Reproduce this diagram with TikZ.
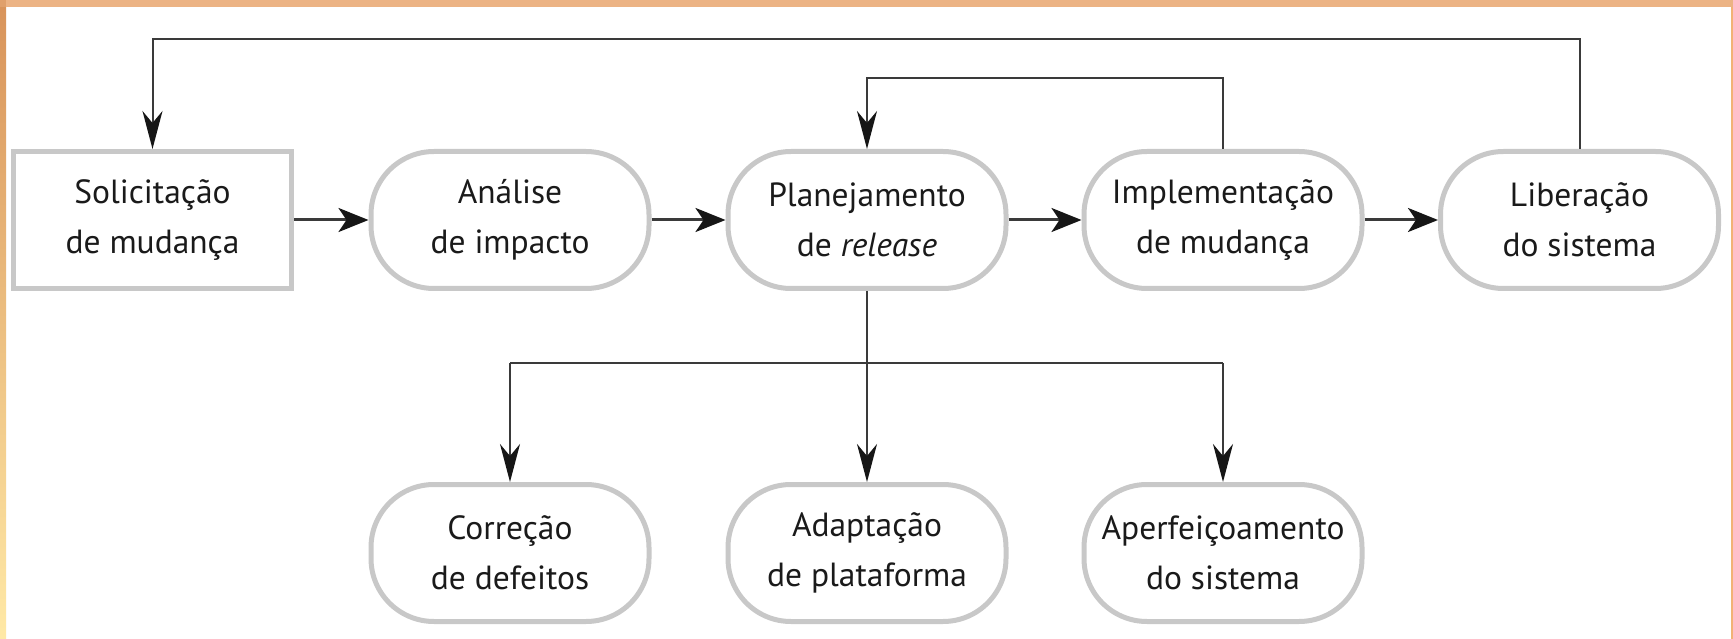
\documentclass[tikz,border=0pt]{standalone}
\usepackage{fontspec}
\setmainfont{PT Sans}
\usetikzlibrary{arrows.meta}
\definecolor{boxgray}{HTML}{C8C8C8}
\definecolor{linedark}{HTML}{3A3A3A}
\definecolor{tipdark}{HTML}{161616}
\definecolor{txt}{HTML}{1A1A1A}
\definecolor{frameA}{HTML}{D8935A}
\definecolor{frameB}{HTML}{ECB384}
\definecolor{frameY}{HTML}{FFE9A6}
\definecolor{frameR}{HTML}{F2B276}
\tikzset{
  x=1pt, y=-1pt,
  basebox/.style={draw=boxgray, line width=5pt, fill=white, text=txt,
    minimum width=278pt, minimum height=137pt, align=center,
    font=\fontsize{33.5}{50}\selectfont, inner sep=0pt},
  roundbox/.style={basebox, rounded corners=63pt},
  squarebox/.style={basebox},
  flow/.style={draw=linedark, line width=3pt,
    -{Stealth[length=30pt, width=24pt, inset=8pt, color=tipdark]}},
  fb/.style={draw=linedark, line width=2pt,
    -{Stealth[length=38pt, width=20pt, inset=12pt, color=tipdark]}},
  fbline/.style={draw=linedark, line width=2pt},
}
\begin{document}
\begin{tikzpicture}
\useasboundingbox (0,0) rectangle (1733,639);
% background frame
\fill[white] (0,0) rectangle (1733,639);
\shade[top color=frameA, bottom color=frameY] (0,0) rectangle (6,639);
\fill[frameB] (0,0) rectangle (1733,7);
\fill[frameA!60!frameB] (0,0) rectangle (6,7);
\fill[frameR] (1731,7) rectangle (1733,639);

% nodes
\node[squarebox] (sol) at (152.5,220) {Solicitação\\de mudança};
\node[roundbox] (ana) at (510,220) {Análise\\de impacto};
\node[roundbox] (pla) at (867,220) {Planejamento\\de \textit{release}};
\node[roundbox] (imp) at (1223,220) {Implementação\\de mudança};
\node[roundbox] (lib) at (1579.5,220) {Liberação\\do sistema};
\node[roundbox] (cor) at (510,553) {Correção\\de defeitos};
\node[roundbox] (ada) at (867,553) {Adaptação\\de plataforma};
\node[roundbox] (ape) at (1223,553) {Aperfeiçoamento\\do sistema};

% helper coordinates
\coordinate (top1) at (0,39);
\coordinate (top2) at (0,78.5);
\coordinate (split) at (0,363);

% main flow
\draw[flow] (sol) -- (ana);
\draw[flow] (ana) -- (pla);
\draw[flow] (pla) -- (imp);
\draw[flow] (imp) -- (lib);

% feedback loops
\draw[fb] (lib.north) -- (lib.north |- top1) -- (sol.north |- top1) -- (sol.north);
\draw[fb] (imp.north) -- (imp.north |- top2) -- (pla.north |- top2) -- (pla.north);

% distribution
\draw[fbline] (pla.south) -- (pla.south |- split);
\draw[fbline] (cor.north |- split) -- (ape.north |- split);
\draw[fb] (cor.north |- split) -- (cor.north);
\draw[fb] (pla.south |- split) -- (ada.north);
\draw[fb] (ape.north |- split) -- (ape.north);
\end{tikzpicture}
\end{document}
